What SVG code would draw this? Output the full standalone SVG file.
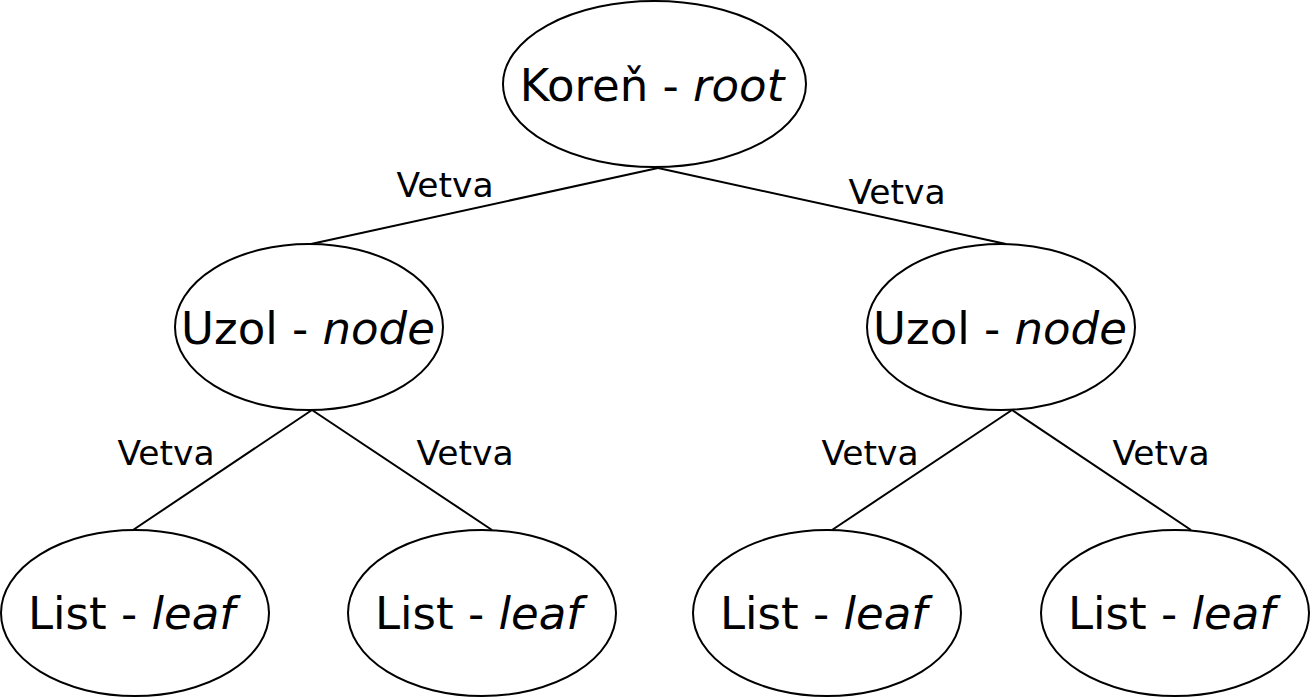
<svg xmlns="http://www.w3.org/2000/svg" width="1310" height="697" viewBox="0 0 1310 697">
<style>
ellipse{fill:#fff;stroke:#000;stroke-width:2}
line{stroke:#000;stroke-width:2}
.t{font-family:"DejaVu Sans",sans-serif;font-size:45px;text-anchor:middle;fill:#000}
.l{font-family:"DejaVu Sans",sans-serif;font-size:34.5px;text-anchor:middle;fill:#000}
.i{font-style:italic}
</style>
<rect width="1310" height="697" fill="#fff"/>
<g id="connectors">
<line x1="658" y1="168" x2="311" y2="244"/>
<line x1="658" y1="168" x2="1006" y2="244"/>
<line x1="312" y1="410" x2="133" y2="530"/>
<line x1="312" y1="410" x2="492" y2="530"/>
<line x1="1012" y1="410" x2="832" y2="530"/>
<line x1="1012" y1="410" x2="1191" y2="530"/>
<text class="l" x="445" y="197">Vetva</text>
<text class="l" x="897" y="204">Vetva</text>
<text class="l" x="166" y="465">Vetva</text>
<text class="l" x="465" y="465">Vetva</text>
<text class="l" x="870" y="465">Vetva</text>
<text class="l" x="1161" y="465">Vetva</text>
</g>
<g id="root"><ellipse cx="654.5" cy="84" rx="151.5" ry="83"/><text class="t" x="652" y="101">Koreň - <tspan class="i">root</tspan></text></g>
<g id="node-left"><ellipse cx="309" cy="327" rx="134" ry="83"/><text class="t" x="308" y="344">Uzol - <tspan class="i">node</tspan></text></g>
<g id="node-right"><ellipse cx="1001" cy="327" rx="134" ry="83"/><text class="t" x="1000" y="344">Uzol - <tspan class="i">node</tspan></text></g>
<g id="leaf-1"><ellipse cx="135" cy="613" rx="134" ry="83"/><text class="t" x="131.5" y="629">List - <tspan class="i">leaf</tspan></text></g>
<g id="leaf-2"><ellipse cx="482" cy="613" rx="134" ry="83"/><text class="t" x="478.5" y="629">List - <tspan class="i">leaf</tspan></text></g>
<g id="leaf-3"><ellipse cx="827" cy="613" rx="134" ry="83"/><text class="t" x="823.5" y="629">List - <tspan class="i">leaf</tspan></text></g>
<g id="leaf-4"><ellipse cx="1175" cy="613" rx="134" ry="83"/><text class="t" x="1171.5" y="629">List - <tspan class="i">leaf</tspan></text></g>
</svg>
